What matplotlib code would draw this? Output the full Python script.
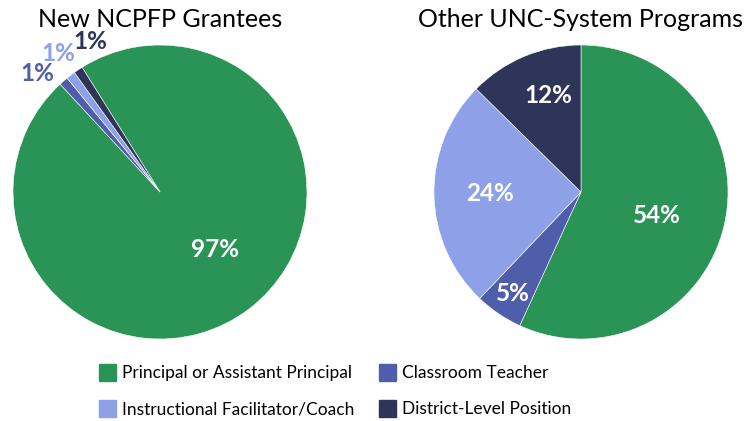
import matplotlib.pyplot as plt
from matplotlib.patches import Patch
import numpy as np

# data
categories = ['Principal or Assistant Principal', 'Classroom Teacher',
              'Instructional Facilitator/Coach', 'District-Level Position']
grantees = [97, 1, 1, 1]
other_unc = [54, 5, 24, 12]
titles = ['New NCPFP Grantees', 'Other UNC-System Programs']

colors = ['#2a9456', '#4f5eab', '#8ea0e8', '#2e3559']

plt.rcParams['font.family'] = ['Lato', 'DejaVu Sans']

fig = plt.figure(figsize=(7.53, 4.21), dpi=100)
ax1 = fig.add_axes([13/753, 82/421, 294/753, 294/421])
ax2 = fig.add_axes([434/753, 82/421, 294/753, 294/421])


def draw_pie(ax, values, start, dists, nudges, label_colors, title):
    wedges, texts, autotexts = ax.pie(values, colors=colors, startangle=start,
                                      counterclock=False, autopct='%d%%',
                                      wedgeprops=dict(edgecolor='white', linewidth=0.4))
    for w, t, d, n, c, v in zip(wedges, autotexts, dists, nudges, label_colors, values):
        ang = np.deg2rad((w.theta1 + w.theta2) / 2 + n)
        t.set_position((d*np.cos(ang), d*np.sin(ang)))
        t.set_text('%d%%' % v)
        t.set_color(c)
        t.set_fontsize(17.5)
        t.set_fontweight('bold')
        t.set_ha('center')
        t.set_va('center')
    ax.set_xlim(-1, 1)
    ax.set_ylim(-1, 1)
    ax.set_title(title, fontsize=18, pad=13)
    return wedges


w1 = draw_pie(ax1, grantees, 122, [0.54, 1.16, 1.17, 1.13], [6, 5, -1, -9],
              ['white', colors[1], colors[2], colors[3]], titles[0])
w2 = draw_pie(ax2, other_unc, 90, [0.54, 0.83, 0.62, 0.69], [-5, 0, 0, -4],
              ['white']*4, titles[1])

# legend: two columns
handles = [Patch(color=colors[i]) for i in [0, 2, 1, 3]]
labels = [categories[i] for i in [0, 2, 1, 3]]
fig.legend(handles, labels, ncol=2, loc='center', bbox_to_anchor=(0.445, 0.0724),
           frameon=False, fontsize=12.5, handlelength=1.0, handleheight=1.2,
           handletextpad=0.35, columnspacing=1.4, labelspacing=1.05)

plt.savefig('out.png', dpi=100)
